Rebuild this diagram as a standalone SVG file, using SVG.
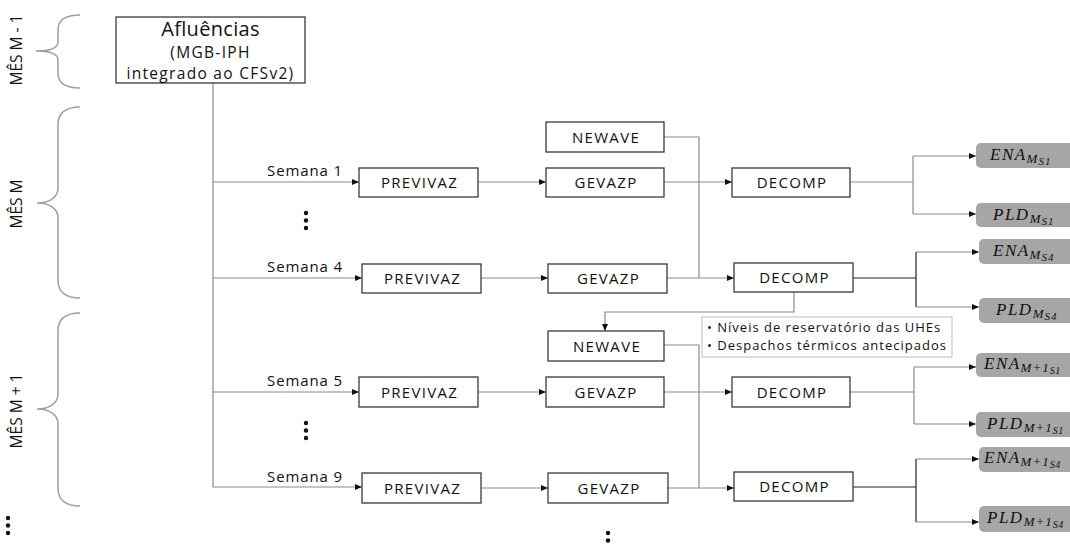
<svg xmlns="http://www.w3.org/2000/svg" width="1070" height="545" viewBox="0 0 1070 545">
<defs>
<marker id="ah" markerWidth="7" markerHeight="6" refX="7" refY="3" orient="auto" markerUnits="userSpaceOnUse"><path d="M0,0 L7,3 L0,6 z" fill="#111"/></marker>
<style>
.bx{fill:#fff;stroke:#3a3a3a;stroke-width:1.3}
.lb{font-family:"Open Sans",sans-serif;font-size:15px;letter-spacing:1.3px;fill:#111;text-anchor:middle}
.sem{font-family:"Open Sans",sans-serif;font-size:15px;letter-spacing:0.9px;fill:#111}
.mes{font-family:"Open Sans",sans-serif;font-size:15.5px;fill:#111;text-anchor:middle}
.c{fill:none;stroke:#8a8a8a;stroke-width:1.2}
.cd{fill:none;stroke:#222;stroke-width:1.2}
.a{marker-end:url(#ah)}
.br{fill:none;stroke:#a0a0a0;stroke-width:1.5}
.out{fill:#a6a6a6}
.ot{font-family:"Liberation Serif",serif;font-style:italic;font-size:17px;letter-spacing:1.5px;fill:#111}
.dot{fill:#111}
.note{font-family:"Open Sans",sans-serif;font-size:13px;letter-spacing:1px;fill:#111}
.af{font-family:"Open Sans",sans-serif;fill:#111;text-anchor:middle}
</style>
</defs>
<rect width="1070" height="545" fill="#fff"/>

<g id="braces">
<path class="br" d="M80,15 C66,15 58,20 58,30 V42 C58,48 50,51 36,51 C50,51 58,54 58,60 V73 C58,83 66,88 80,88"/>
<path class="br" d="M80,107 C66,107 58,113 58,125 V188 C58,197 50,203 37,203 C50,203 58,209 58,218 V280 C58,292 66,298 80,298"/>
<path class="br" d="M80,313 C66,313 58,319 58,331 V394 C58,403 50,409 37,409 C50,409 58,415 58,424 V488 C58,500 66,506 80,506"/>
<text class="mes" x="22" y="50" transform="rotate(-90 22 50)">MÊS M - 1</text>
<text class="mes" x="22" y="204" transform="rotate(-90 22 204)">MÊS M</text>
<text class="mes" x="22" y="411" transform="rotate(-90 22 411)">MÊS M + 1</text>
</g>

<g id="connectors">
<path class="c" d="M213,83 V487 H362" marker-end="url(#ah)"/>
<path class="c a" d="M213,182 H359"/>
<path class="c a" d="M213,278 H362"/>
<path class="c a" d="M213,392 H359"/>
<path class="c a" d="M478,182 H546"/>
<path class="c a" d="M481,278 H548"/>
<path class="c a" d="M478,392 H546"/>
<path class="c a" d="M481,488 H548"/>
<path class="c a" d="M664,182 H732"/>
<path class="c a" d="M667,278 H734"/>
<path class="c a" d="M664,392 H732"/>
<path class="c a" d="M668,488 H734"/>
<path class="c" d="M664,137 H699 V278"/>
<path class="c a" d="M794,292 V312 H605 V331"/>
<path class="c" d="M664,345 H699 V488"/>
<path class="c" d="M850,182 H913 M913,156 V214"/>
<path class="c a" d="M913,156 H976"/>
<path class="c a" d="M913,214 H976"/>
<path class="cd" d="M853,278 H916 M916,252 V307"/>
<path class="c a" d="M916,252 H979"/>
<path class="c a" d="M916,307 H979"/>
<path class="c" d="M850,392 H914 M914,367 V424"/>
<path class="c a" d="M914,367 H976"/>
<path class="c a" d="M914,424 H976"/>
<path class="cd" d="M853,487 H916 M916,459 V522"/>
<path class="c a" d="M916,459 H979"/>
<path class="c a" d="M916,522 H979"/>
</g>

<g id="afluencias">
<rect class="bx" x="116" y="17" width="189" height="66"/>
<text class="af" x="210.5" y="35.5" font-size="20" letter-spacing="0.3">Afluências</text>
<text class="af" x="210.5" y="58" font-size="15.5" letter-spacing="1.3">(MGB-IPH</text>
<text class="af" x="210.5" y="79" font-size="15.5" letter-spacing="1.3">integrado ao CFSv2)</text>
</g>

<g id="semanas">
<text class="sem" x="267" y="176">Semana 1</text>
<text class="sem" x="267" y="272">Semana 4</text>
<text class="sem" x="267" y="386">Semana 5</text>
<text class="sem" x="267" y="482">Semana 9</text>
<circle class="dot" cx="306" cy="213" r="2.2"/><circle class="dot" cx="306" cy="220.5" r="2.2"/><circle class="dot" cx="306" cy="228" r="2.2"/>
<circle class="dot" cx="306" cy="423" r="2.2"/><circle class="dot" cx="306" cy="430.5" r="2.2"/><circle class="dot" cx="306" cy="438" r="2.2"/>
<circle class="dot" cx="8" cy="518" r="2.2"/><circle class="dot" cx="8" cy="525.5" r="2.2"/><circle class="dot" cx="8" cy="533" r="2.2"/>
<circle class="dot" cx="608" cy="533" r="2.2"/><circle class="dot" cx="608" cy="540.5" r="2.2"/>
</g>

<g id="previvaz1"><rect class="bx" x="359" y="168" width="119" height="29"/><text class="lb" x="419.5" y="188">PREVIVAZ</text></g>
<g id="previvaz4"><rect class="bx" x="362" y="264" width="119" height="29"/><text class="lb" x="422.5" y="284">PREVIVAZ</text></g>
<g id="previvaz5"><rect class="bx" x="359" y="377" width="119" height="30"/><text class="lb" x="419.5" y="397.5">PREVIVAZ</text></g>
<g id="previvaz9"><rect class="bx" x="362" y="473" width="119" height="30"/><text class="lb" x="422.5" y="493.5">PREVIVAZ</text></g>

<g id="newave1"><rect class="bx" x="546" y="122" width="118" height="30"/><text class="lb" x="606" y="142.5">NEWAVE</text></g>
<g id="gevazp1"><rect class="bx" x="546" y="168" width="118" height="29"/><text class="lb" x="606" y="188">GEVAZP</text></g>
<g id="gevazp4"><rect class="bx" x="548" y="264" width="119" height="29"/><text class="lb" x="608.5" y="284">GEVAZP</text></g>
<g id="newave2"><rect class="bx" x="548" y="331" width="116" height="30"/><text class="lb" x="607" y="351.5">NEWAVE</text></g>
<g id="gevazp5"><rect class="bx" x="546" y="377" width="118" height="30"/><text class="lb" x="606" y="397.5">GEVAZP</text></g>
<g id="gevazp9"><rect class="bx" x="548" y="473" width="120" height="30"/><text class="lb" x="609" y="493.5">GEVAZP</text></g>

<g id="decomp1"><rect class="bx" x="732" y="168" width="118" height="29"/><text class="lb" x="792" y="188">DECOMP</text></g>
<g id="decomp4"><rect class="bx" x="734" y="263" width="119" height="29"/><text class="lb" x="794.5" y="283">DECOMP</text></g>
<g id="decomp5"><rect class="bx" x="732" y="377" width="118" height="30"/><text class="lb" x="792" y="397.5">DECOMP</text></g>
<g id="decomp9"><rect class="bx" x="734" y="472" width="119" height="29"/><text class="lb" x="794.5" y="492">DECOMP</text></g>

<g id="nota">
<rect x="702" y="317" width="250" height="40" fill="#fff" stroke="#c8c8c8" stroke-width="1.2"/>
<text class="note" x="707" y="332">• Níveis de reservatório das UHEs</text>
<text class="note" x="707" y="350">• Despachos térmicos antecipados</text>
</g>

<g id="ena-m-s1"><rect class="out" x="976" y="143" width="104" height="25" rx="5"/><text class="ot" x="990" y="160">ENA<tspan font-size="13" dy="3" letter-spacing="1">M</tspan><tspan font-size="11" dy="2" letter-spacing="1">S1</tspan></text></g>
<g id="pld-m-s1"><rect class="out" x="976" y="203" width="104" height="24" rx="5"/><text class="ot" x="993" y="220">PLD<tspan font-size="13" dy="3" letter-spacing="1">M</tspan><tspan font-size="11" dy="2" letter-spacing="1">S1</tspan></text></g>
<g id="ena-m-s4"><rect class="out" x="979" y="239" width="101" height="25" rx="5"/><text class="ot" x="993" y="256">ENA<tspan font-size="13" dy="3" letter-spacing="1">M</tspan><tspan font-size="11" dy="2" letter-spacing="1">S4</tspan></text></g>
<g id="pld-m-s4"><rect class="out" x="979" y="298" width="101" height="25" rx="5"/><text class="ot" x="996" y="315">PLD<tspan font-size="13" dy="3" letter-spacing="1">M</tspan><tspan font-size="11" dy="2" letter-spacing="1">S4</tspan></text></g>
<g id="ena-m1-s1"><rect class="out" x="976" y="353" width="104" height="24" rx="5"/><text class="ot" x="984" y="369">ENA<tspan font-size="13" dy="3" letter-spacing="1">M+1</tspan><tspan font-size="10" dy="2" letter-spacing="0.5">S1</tspan></text></g>
<g id="pld-m1-s1"><rect class="out" x="976" y="412" width="104" height="25" rx="5"/><text class="ot" x="987" y="429">PLD<tspan font-size="13" dy="3" letter-spacing="1">M+1</tspan><tspan font-size="10" dy="2" letter-spacing="0.5">S1</tspan></text></g>
<g id="ena-m1-s4"><rect class="out" x="979" y="447" width="101" height="25" rx="5"/><text class="ot" x="984" y="463">ENA<tspan font-size="13" dy="3" letter-spacing="1">M+1</tspan><tspan font-size="10" dy="2" letter-spacing="0.5">S4</tspan></text></g>
<g id="pld-m1-s4"><rect class="out" x="979" y="506" width="101" height="26" rx="5"/><text class="ot" x="987" y="523">PLD<tspan font-size="13" dy="3" letter-spacing="1">M+1</tspan><tspan font-size="10" dy="2" letter-spacing="0.5">S4</tspan></text></g>
</svg>
